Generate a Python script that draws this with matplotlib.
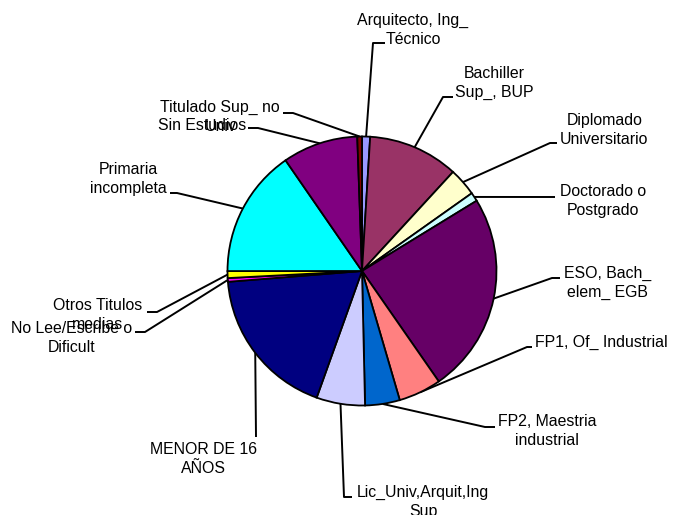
import numpy as np
import matplotlib
matplotlib.use('Agg')
import matplotlib.pyplot as plt

plt.rcParams['font.family'] = ['Liberation Sans', 'DejaVu Sans']

# datos (porcentaje de cada nivel de estudios)
categorias = ['Arquitecto, Ing_\nTécnico', 'Bachiller\nSup_, BUP', 'Diplomado\nUniversitario',
              'Doctorado o\nPostgrado', 'ESO, Bach_\nelem_ EGB', 'FP1, Of_ Industrial',
              'FP2, Maestria\nindustrial', 'Lic_Univ,Arquit,Ing\nSup', 'MENOR DE 16\nAÑOS',
              'No Lee/Escribe o\nDificult', 'Otros Titulos\nmedias', 'Primaria\nincompleta',
              'Sin Estudios', 'Titulado Sup_ no\nUniv']
porcentajes = [0.97, 10.86, 3.36, 1.06, 24.08, 5.14, 4.17, 5.83, 18.25, 0.44, 0.83, 15.39, 9.06, 0.56]
colores = ['#9999FF', '#993366', '#FFFFCC', '#CCFFFF', '#660066', '#FF8080', '#0066CC',
           '#CCCCFF', '#000080', '#FF00FF', '#FFFF00', '#00FFFF', '#800080', '#800000']

# posicion de cada etiqueta (pixeles): texto x, texto y, alineacion, codo, fin de la linea
pos_texto = [(413, 30, 'center'), (455, 83, 'left'), (560, 130, 'left'), (560, 201, 'left'),
             (564, 283, 'left'), (535, 342, 'left'), (498, 431, 'left'), (357, 502, 'left'),
             (257, 459, 'right'), (132, 338, 'right'), (142, 315, 'right'), (167, 179, 'right'),
             (246, 126, 'right'), (280, 117, 'right')]
codos = [(373, 43), (443, 97), (550, 143), (555, 197), (552, 278), (527, 347), (485, 427),
         (344, 497), (256, 437), (145, 332), (157, 312), (177, 193), (258, 128), (293, 113)]
finales = [(385, 43), (453, 97), (557, 143), (555, 197), (560, 278), (532, 347), (495, 427),
           (352, 497), (256, 437), (135, 332), (147, 312), (170, 193), (248, 128), (283, 113)]

W, H = 681, 515
cx, cy, r = 362, 271, 134.5

fig = plt.figure(figsize=(W / 100, H / 100), dpi=100, facecolor='white')
ax = fig.add_axes([0, 0, 1, 1])

wedges, _ = ax.pie(porcentajes, colors=colores, startangle=-90, counterclock=True,
                   center=(cx, cy), radius=r,
                   wedgeprops=dict(edgecolor='black', linewidth=1.3))

ax.set_xlim(0, W)
ax.set_ylim(H, 0)
ax.axis('off')

for w, txt, (tx, ty, ha), codo, fin in zip(wedges, categorias, pos_texto, codos, finales):
    ang = np.deg2rad((w.theta1 + w.theta2) / 2)
    borde = (cx + r * np.cos(ang), cy + r * np.sin(ang))
    ax.plot([borde[0], codo[0], fin[0]], [borde[1], codo[1], fin[1]],
            color='black', lw=1.4, solid_capstyle='butt', zorder=0)
    ax.text(tx, ty, txt, ha=ha, va='center', multialignment='center',
            fontsize=11.4, linespacing=1.28, color='black')

fig.savefig('out.png', dpi=100)
